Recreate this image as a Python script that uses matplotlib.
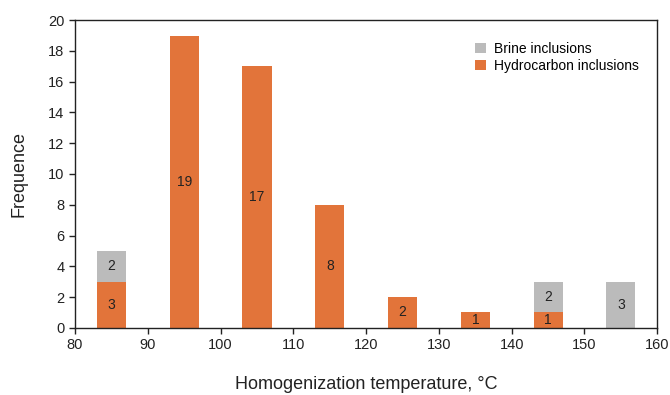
import matplotlib
matplotlib.use("Agg")
import matplotlib.pyplot as plt

plt.rcParams['font.family'] = ['Liberation Sans', 'DejaVu Sans']

temps = [85, 95, 105, 115, 125, 135, 145, 155]
hydrocarbon = [3, 19, 17, 8, 2, 1, 1, 0]
brine = [2, 0, 0, 0, 0, 0, 2, 3]

orange = '#E2743A'
gray = '#BBBBBB'

fig = plt.figure(figsize=(6.7, 3.95), dpi=100)
ax = fig.add_axes([0.112, 0.170, 0.869, 0.779])

ax.bar(temps, brine, width=4, bottom=hydrocarbon, color=gray, label='Brine inclusions')
ax.bar(temps, hydrocarbon, width=4, color=orange, label='Hydrocarbon inclusions')

for x, h, b in zip(temps, hydrocarbon, brine):
    if h > 0:
        ax.text(x, h / 2, str(h), ha='center', va='center', fontsize=10, color='#222222')
    if b > 0:
        ax.text(x, h + b / 2, str(b), ha='center', va='center', fontsize=10, color='#222222')

ax.set_xlim(80, 160)
ax.set_ylim(0, 20)
ax.set_xticks(range(80, 161, 10))
ax.set_yticks(range(0, 21, 2))
ax.tick_params(direction='out', length=4, width=1, labelsize=10.5, colors='#222222')
for s in ax.spines.values():
    s.set_linewidth(1)
    s.set_color('#222222')

ax.set_xlabel('Homogenization temperature, °C', fontsize=13, labelpad=17, color='#222222')
ax.set_ylabel('Frequence', fontsize=13, labelpad=15, color='#222222')

ax.legend(loc='upper right', bbox_to_anchor=(0.99, 0.97), frameon=False, fontsize=10,
          handlelength=0.8, handleheight=0.8, handletextpad=0.6, labelspacing=0.2)

fig.savefig('out.png', dpi=100)
